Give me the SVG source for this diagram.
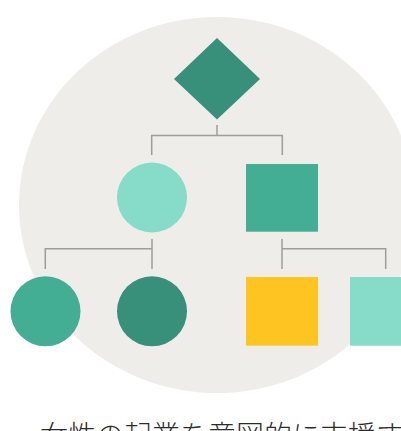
<svg xmlns="http://www.w3.org/2000/svg" width="401" height="431" viewBox="0 0 401 431">
<style>
.conn{fill:none;stroke:#9e9d99;stroke-width:1.5}
.dark{fill:#388f7a}
.mid{fill:#43ae93}
.light{fill:#86dcc8}
.yellow{fill:#fec522}
.label{font-family:"Noto Sans CJK JP","Noto Sans",sans-serif;font-size:28px;font-weight:300;fill:#2b2b2b}
</style>
<rect width="401" height="431" fill="#ffffff"/>
<ellipse id="background" cx="217" cy="205" rx="198" ry="188" fill="#eeedea"/>
<g id="connectors">
<path class="conn" d="M217 125V135.5M151.7 155V135.5H282.3V155"/>
<path class="conn" d="M152 239V269M45.3 269V248.7H152"/>
<path class="conn" d="M282 239V269M282 248.7H385.7V269"/>
</g>
<g id="diamond"><polygon class="dark" points="217,38 260,79 217,119.5 174,79"/></g>
<g id="circle-light"><circle class="light" cx="152" cy="197.5" r="35"/></g>
<g id="square-mid"><rect class="mid" x="246" y="164" width="72" height="67.7"/></g>
<g id="circle-mid"><circle class="mid" cx="45.5" cy="311.3" r="35"/></g>
<g id="circle-dark"><circle class="dark" cx="152" cy="311.3" r="35"/></g>
<g id="square-yellow"><rect class="yellow" x="246" y="277" width="72" height="68.7"/></g>
<g id="square-light"><rect class="light" x="350" y="277" width="60" height="68.7"/></g>
<text class="label" x="40" y="446">女性の起業を意図的に支援す</text>
</svg>
